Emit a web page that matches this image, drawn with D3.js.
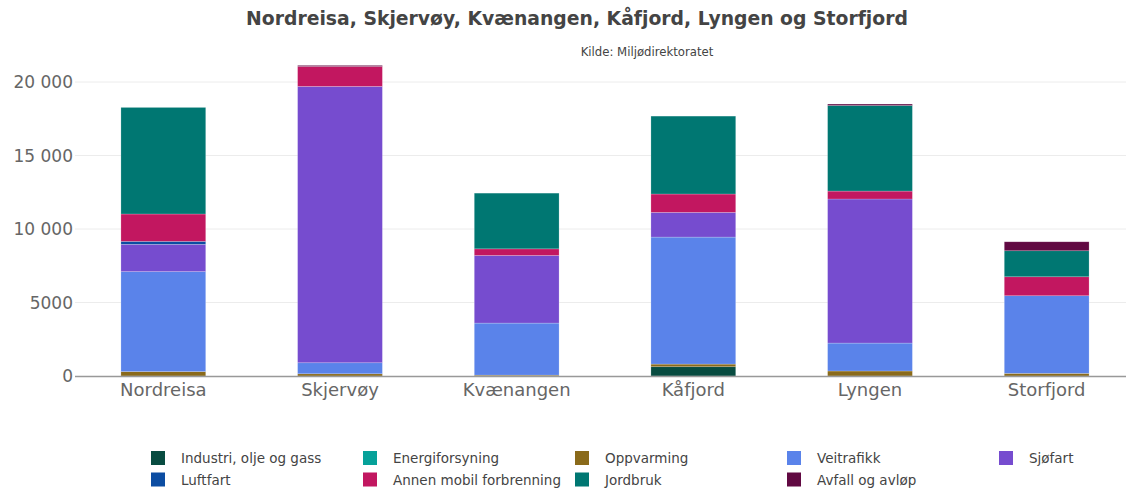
<!DOCTYPE html>
<html>
<head>
<meta charset="utf-8">
<script src="https://cdn.jsdelivr.net/npm/d3@7"></script>
<style>
  body { margin: 0; background: #fff; }
  text { font-family: "DejaVu Sans", Verdana, sans-serif; }
</style>
</head>
<body>
<script>
// data
var kommuner = ['Nordreisa', 'Skjervøy', 'Kvænangen', 'Kåfjord', 'Lyngen', 'Storfjord'];
var sektorer = ['Industri, olje og gass', 'Energiforsyning', 'Oppvarming', 'Veitrafikk', 'Sjøfart',
                'Luftfart', 'Annen mobil forbrenning', 'Jordbruk', 'Avfall og avløp'];
var farger = ['#084c41', '#06a199', '#8a6a1a', '#5a83ea', '#764ccf',
              '#0c4da2', '#c21760', '#007772', '#610942'];

var industri   = [0, 0, 0, 630, 0, 0];
var energi     = [0, 0, 0, 0, 0, 0];
var oppvarming = [300, 150, 60, 180, 340, 180];
var veitrafikk = [6800, 750, 3540, 8640, 1900, 5280];
var sjofart    = [1860, 18800, 4600, 1680, 9800, 0];
var luftfart   = [200, 0, 0, 0, 0, 0];
var annenMobil = [1860, 1360, 450, 1250, 540, 1290];
var jordbruk   = [7250, 0, 3790, 5300, 5820, 1770];
var avfall     = [0, 70, 0, 0, 100, 610];

var yTicks = [0, 5000, 10000, 15000, 20000];

var serier = [industri, energi, oppvarming, veitrafikk, sjofart, luftfart, annenMobil, jordbruk, avfall];

var width = 1126, height = 489;
var svg = d3.select('body').append('svg')
	.attr('width', width)
	.attr('height', height);

var x = d3.scaleBand().domain(kommuner).range([75, 1135]).paddingInner(0.52).paddingOuter(0.26);
var y = d3.scaleLinear().domain([0, 20000]).range([376, 82]);

//title
svg.append('text')
	.attr('x', 577).attr('y', 25)
	.attr('text-anchor', 'middle')
	.attr('font-size', 18.8).attr('font-weight', 'bold')
	.attr('fill', '#444')
	.text('Nordreisa, Skjervøy, Kvænangen, Kåfjord, Lyngen og Storfjord');

svg.append('text')
	.attr('x', 647).attr('y', 56)
	.attr('text-anchor', 'middle')
	.attr('font-size', 13)
	.style('font-family', '"DejaVu Sans Condensed", "DejaVu Sans", sans-serif')
	.attr('fill', '#444')
	.text('Kilde: Miljødirektoratet');

//grid + y labels
var yAxis = svg.append('g');
yAxis.selectAll('line').data(yTicks.slice(1))
	.enter().append('line')
	.attr('x1', 75).attr('x2', width)
	.attr('y1', function(d){ return y(d); })
	.attr('y2', function(d){ return y(d); })
	.attr('stroke', '#ececec').attr('stroke-width', 1);

yAxis.selectAll('text').data(yTicks)
	.enter().append('text')
	.attr('x', 73)
	.attr('y', function(d){ return y(d) + 6; })
	.attr('text-anchor', 'end')
	.attr('font-size', 17)
	.attr('fill', '#666')
	.text(function(d){ return d >= 10000 ? d3.format(',')(d).replace(',', ' ') : d; });

//stacked bars
var tabell = kommuner.map(function(k, i){
	var rad = { kommune: k };
	sektorer.forEach(function(s, j){ rad[s] = serier[j][i]; });
	return rad;
});
var stack = d3.stack().keys(sektorer)(tabell);

svg.append('g').selectAll('g').data(stack)
	.enter().append('g')
	.attr('fill', function(d, i){ return farger[i]; })
	.selectAll('rect').data(function(d){ return d; })
	.enter().append('rect')
	.attr('x', function(d){ return x(d.data.kommune); })
	.attr('width', x.bandwidth())
	.attr('y', function(d){ return y(d[1]); })
	.attr('height', function(d){ return y(d[0]) - y(d[1]); })
	.attr('stroke', 'rgba(255,255,255,0.35)')
	.attr('stroke-width', function(d){ return d[1] - d[0] > 0 ? 0.6 : 0; });

//x axis
svg.append('line')
	.attr('x1', 75).attr('x2', width)
	.attr('y1', 376.5).attr('y2', 376.5)
	.attr('stroke', '#999').attr('stroke-width', 1.5);

svg.append('g').selectAll('text').data(kommuner)
	.enter().append('text')
	.attr('x', function(d){ return x(d) + x.bandwidth()/2; })
	.attr('y', 396)
	.attr('text-anchor', 'middle')
	.attr('font-size', 18)
	.attr('fill', '#666')
	.text(function(d){ return d; });

//legend
var legend = svg.append('g').selectAll('g').data(sektorer)
	.enter().append('g')
	.attr('transform', function(d, i){
		return 'translate(' + (151 + (i % 5) * 212) + ',' + (458 + Math.floor(i / 5) * 21.5) + ')';
	});
legend.append('rect')
	.attr('x', 0).attr('y', -7)
	.attr('width', 14).attr('height', 14)
	.attr('fill', function(d, i){ return farger[i]; });
legend.append('text')
	.attr('x', 30).attr('y', 5)
	.attr('font-size', 13.5)
	.attr('fill', '#444')
	.text(function(d){ return d; });
</script>
</body>
</html>
